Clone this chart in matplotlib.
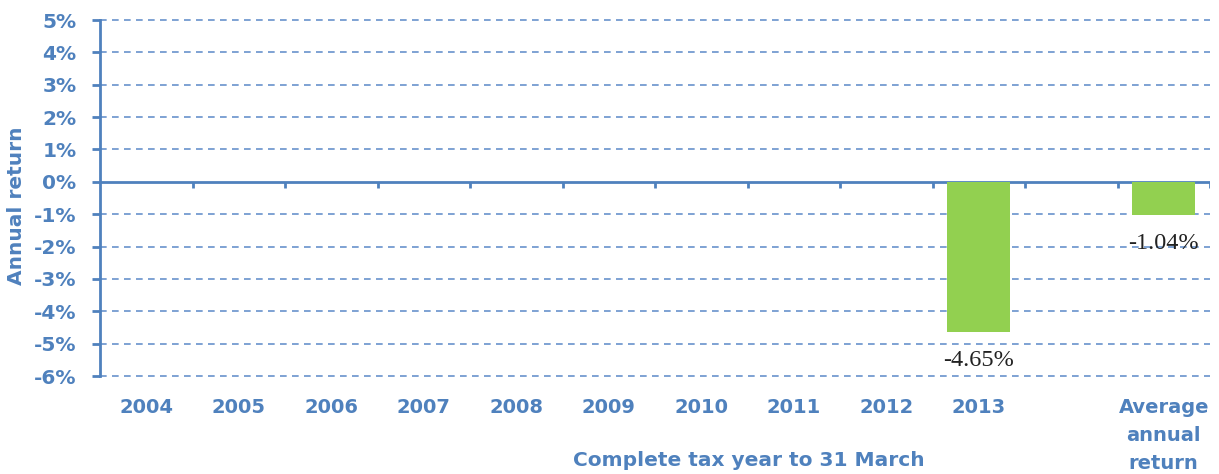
import numpy as np
from matplotlib import pyplot as plt

categories = ['2004', '2005', '2006', '2007', '2008', '2009', '2010', '2011',
              '2012', '2013', '', 'Average\nannual\nreturn']
returns = [np.nan] * 10 + [np.nan, -1.04]
returns[9] = -4.65
labels = {9: '-4.65%', 11: '-1.04%'}
yticks = list(range(-6, 6))

blue = '#4F81BD'
grid_blue = '#6892CC'
green = '#92D050'

fig = plt.figure(figsize=(12.19, 4.74), dpi=100)
ax = fig.add_axes([100 / 1219, 1 - 376 / 474, 1110 / 1219, 356 / 474])

x = np.arange(len(categories))
vals = np.array(returns, dtype=float)
ax.bar(x, np.nan_to_num(vals), width=0.68, color=green, zorder=3)

for i, txt in labels.items():
    ax.annotate(txt, (x[i], vals[i]), xytext=(0, -20), textcoords='offset points',
                ha='center', va='center', fontsize=17.5,
                family='Liberation Serif', color='#222222', zorder=4)

ax.set_xlim(-0.5, len(categories) - 0.5)
ax.set_ylim(-6, 5)
ax.set_yticks(yticks)
ax.set_yticklabels([f'{v}%' for v in yticks])
ax.set_xticks(x)
ax.set_xticklabels(categories, linespacing=1.6)

for v in yticks:
    if v != 0:
        ax.axhline(v, color=grid_blue, lw=1.2, ls=(0, (4, 3.2)), zorder=1, clip_on=False)

# zero line with category boundary ticks
ax.axhline(0, color=blue, lw=2, zorder=2)
ax.vlines(x + 0.5, -0.2, 0, color=blue, lw=2, zorder=2)

for s in ['top', 'right', 'bottom']:
    ax.spines[s].set_visible(False)
ax.spines['left'].set_color(blue)
ax.spines['left'].set_linewidth(2)

ax.tick_params(axis='y', colors=blue, length=6, width=2, pad=11,
               labelsize=14.5)
ax.tick_params(axis='x', colors=blue, length=0, pad=16, labelsize=14)
for t in ax.get_xticklabels() + ax.get_yticklabels():
    t.set_fontweight('bold')
    t.set_color(blue)

fig.text(749 / 1219, 1 - 460 / 474, 'Complete tax year to 31 March', ha='center',
         va='center', color=blue, fontsize=14.5, fontweight='bold')
fig.text(17 / 1219, 1 - 206 / 474, 'Annual return', rotation=90, ha='center',
         va='center', color=blue, fontsize=14.5, fontweight='bold')

fig.savefig('out.png', dpi=100)
